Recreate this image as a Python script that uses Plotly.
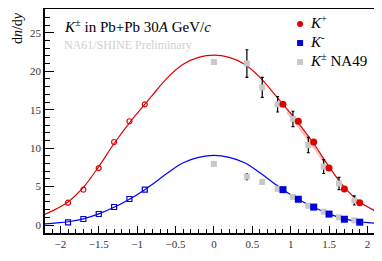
import plotly.graph_objects as go

# NA61 data (measured, positive rapidity) and reflected points
y_meas = [0.9, 1.1, 1.3, 1.5, 1.7, 1.9]
kplus = [15.7, 13.5, 10.8, 7.4, 4.7, 2.9]
kminus = [4.6, 3.35, 2.33, 1.42, 0.75, 0.37]
y_refl = [-0.9, -1.1, -1.3, -1.5, -1.7, -1.9]
kplus_refl = [15.7, 13.5, 10.8, 7.4, 4.6, 2.9]
kminus_refl = [4.6, 3.38, 2.34, 1.43, 0.78, 0.35]

# NA49 data
y_na49 = [0.0, 0.43, 0.63, 0.83, 1.03, 1.23, 1.43, 1.63, 1.83]
kplus_na49 = [21.2, 21.0, 17.9, 15.7, 13.8, 10.4, 7.6, 5.4, 3.2]
kplus_na49_err = [0, 1.8, 1.3, 1.0, 1.0, 1.0, 0.9, 0.8, 0.6]
kminus_na49 = [7.95, 6.3, 5.6, 4.7, 3.65, 2.5, 1.73, 1.0, 0.6]
kminus_na49_err = [0, 0.4, 0.15, 0.15, 0.15, 0.15, 0.15, 0.15, 0.15]

# fitted curves
curve_x = [-2.2, -2.05, -1.9, -1.7, -1.5, -1.3, -1.1, -0.9, -0.8, -0.6, -0.4, -0.2, 0.0,
           0.2, 0.4, 0.6, 0.8, 0.9, 1.1, 1.3, 1.5, 1.7, 1.9, 2.05, 2.2]
curve_kplus = [1.4, 2.1, 3.0, 4.9, 7.6, 10.6, 13.3, 15.7, 16.9, 19.2, 20.9, 21.8, 22.1,
               21.8, 20.9, 19.2, 16.9, 15.7, 13.3, 10.6, 7.6, 4.9, 3.0, 2.1, 1.4]
curve_kminus = [0.15, 0.27, 0.42, 0.8, 1.45, 2.3, 3.35, 4.6, 5.3, 6.8, 8.1, 8.8, 9.07,
                8.8, 8.1, 6.8, 5.3, 4.6, 3.35, 2.3, 1.45, 0.8, 0.42, 0.27, 0.15]

# uncertainty band on K+ curve
band_x = [0.95, 1.1, 1.3, 1.45]
band_hi = [15.1, 13.3, 10.6, 8.4]
band_lo = [14.5, 12.6, 9.9, 7.8]

x_ticks = [-2, -1.5, -1, -0.5, 0, 0.5, 1, 1.5, 2]
x_tick_text = ["\u22122", "\u22121.5", "\u22121", "\u22120.5", "0", "0.5", "1", "1.5", "2"]
y_ticks = [0, 5, 10, 15, 20, 25]

legend_labels = ["<i>K</i><sup>+</sup>", "<i>K</i><sup>-</sup>", "<i>K</i><sup>\u00b1</sup> NA49"]

RED = "#e00000"
BLUE = "#0000dd"
GREY = "#c8c8c8"
SERIF = "Liberation Serif"

fig = go.Figure()

fig.add_trace(go.Scatter(x=band_x, y=band_lo, mode="lines", line=dict(width=0, shape="spline"),
                         showlegend=False, hoverinfo="skip"))
fig.add_trace(go.Scatter(x=band_x, y=band_hi, mode="lines", line=dict(width=0, shape="spline"),
                         fill="tonexty", fillcolor="rgba(240,80,80,0.35)",
                         showlegend=False, hoverinfo="skip"))

fig.add_trace(go.Scatter(x=curve_x, y=curve_kplus, mode="lines",
                         line=dict(color=RED, width=1.2, shape="spline", smoothing=1.0),
                         showlegend=False))
fig.add_trace(go.Scatter(x=curve_x, y=curve_kminus, mode="lines",
                         line=dict(color="#0000ff", width=1.2, shape="spline", smoothing=1.0),
                         showlegend=False))

# NA49
fig.add_trace(go.Scatter(x=y_na49, y=kplus_na49, mode="markers",
                         marker=dict(symbol="square", size=6, color=GREY),
                         error_y=dict(type="data", array=kplus_na49_err, color="black",
                                      thickness=1.2, width=1.5),
                         showlegend=False))
fig.add_trace(go.Scatter(x=y_na49, y=kminus_na49, mode="markers",
                         marker=dict(symbol="square", size=6, color=GREY),
                         error_y=dict(type="data", array=kminus_na49_err, color="black",
                                      thickness=1.2, width=1.0),
                         showlegend=False))

# reflected open markers
fig.add_trace(go.Scatter(x=y_refl, y=kplus_refl, mode="markers",
                         marker=dict(symbol="circle-open", size=5, color=RED, line=dict(width=1.2)),
                         showlegend=False))
fig.add_trace(go.Scatter(x=y_refl, y=kminus_refl, mode="markers",
                         marker=dict(symbol="square-open", size=5, color=BLUE, line=dict(width=1.2)),
                         showlegend=False))

# measured filled markers
fig.add_trace(go.Scatter(x=y_meas, y=kplus, mode="markers", name="K+",
                         marker=dict(symbol="circle", size=7, color=RED), showlegend=False))
fig.add_trace(go.Scatter(x=y_meas, y=kminus, mode="markers", name="K-",
                         marker=dict(symbol="square", size=7, color=BLUE), showlegend=False))

axis_common = dict(showline=True, linecolor="black", linewidth=1.5, ticks="inside",
                   tickcolor="black", showgrid=False, zeroline=False, automargin=False,
                   tickfont=dict(family=SERIF, size=11, color="#333333"))

fig.update_xaxes(range=[-2.2, 2.19], tickvals=x_ticks, ticktext=x_tick_text,
                 ticklen=7, tickwidth=1.2, mirror=True,
                 minor=dict(ticks="inside", dtick=0.1, ticklen=4, tickcolor="black", tickwidth=1),
                 **axis_common)
fig.update_yaxes(range=[-1.04, 28.1], tickvals=y_ticks, ticklen=9, tickwidth=1.2,
                 minor=dict(ticks="inside", dtick=1, ticklen=5, tickcolor="black", tickwidth=1),
                 **axis_common)

fig.add_annotation(text="d<i>n</i>/d<i>y</i>", textangle=-90,
                   xref="paper", yref="paper", x=-0.083, y=0.915, xanchor="center", yanchor="middle",
                   showarrow=False, font=dict(family=SERIF, size=14, color="black"))
fig.add_annotation(text="<i>K</i><sup>\u00b1</sup> in Pb+Pb 30<i>A</i> GeV/<i>c</i>",
                   xref="paper", yref="paper", x=0.05, y=0.925, xanchor="left", yanchor="middle",
                   showarrow=False, font=dict(family=SERIF, size=15, color="black"))
fig.add_annotation(text="NA61/SHINE Preliminary",
                   xref="paper", yref="paper", x=0.05, y=0.84, xanchor="left", yanchor="middle",
                   showarrow=False, font=dict(family=SERIF, size=12, color="#d0d0d0"))
fig.add_annotation(text="<i>y</i>",
                   xref="paper", yref="paper", x=0.988, y=-0.076, xanchor="center", yanchor="middle",
                   showarrow=False, font=dict(family=SERIF, size=14, color="black"))

# manual legend
leg_y = [0.933, 0.848, 0.763]
leg_sym = [("circle", RED), ("rect", BLUE), ("rect", GREY)]
for lab, ly, (kind, col) in zip(legend_labels, leg_y, leg_sym):
    fig.add_shape(type=kind, xref="paper", yref="paper", xsizemode="pixel", ysizemode="pixel",
                  xanchor=0.757, yanchor=ly, x0=-3, x1=3, y0=-3, y1=3,
                  fillcolor=col, line=dict(width=0))
    fig.add_annotation(text=lab, xref="paper", yref="paper", x=0.78, y=ly + 0.008,
                       xanchor="left", yanchor="middle", showarrow=False,
                       font=dict(family=SERIF, size=15, color="black"))

# the page adds an 8 px body margin; margins below compensate for it
fig.update_layout(
    width=382, height=261,
    margin=dict(l=37, r=8, t=1, b=36),
    paper_bgcolor="white", plot_bgcolor="white",
    showlegend=False,
)

fig.write_html("out.html")
